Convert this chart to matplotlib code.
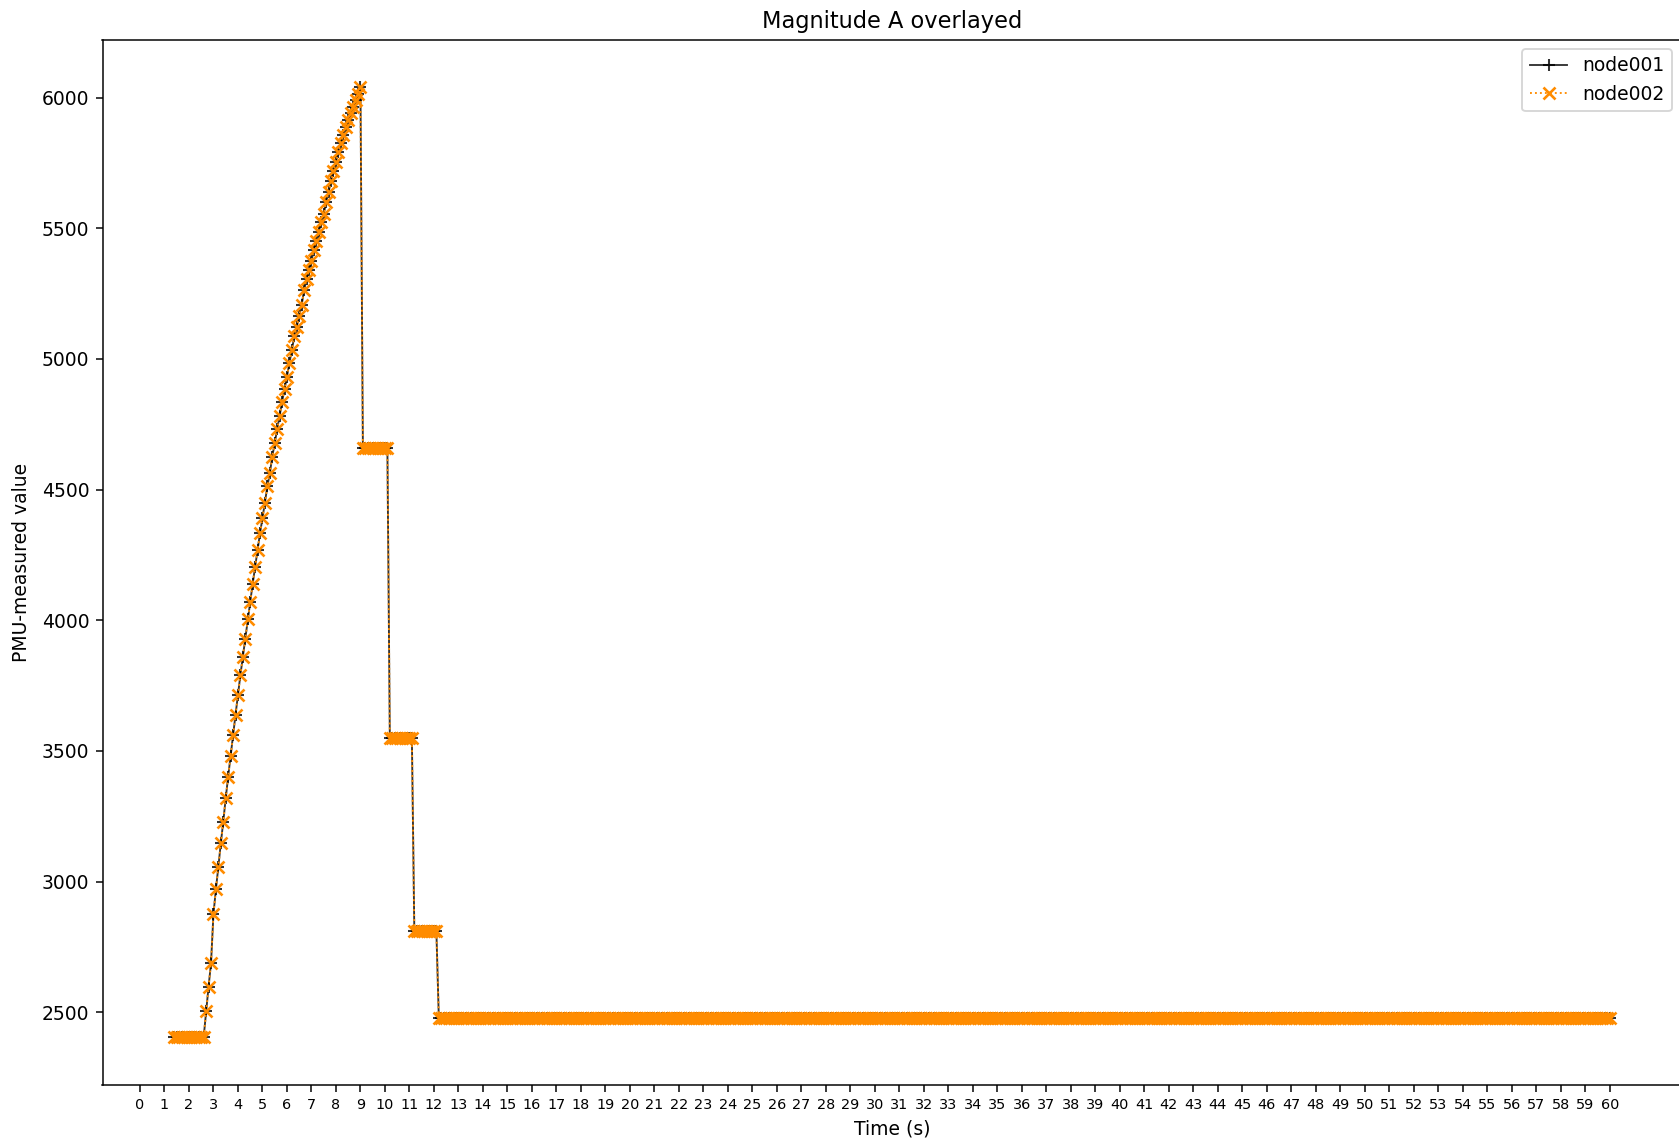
import numpy as np
import matplotlib
matplotlib.use("Agg")
import matplotlib.pyplot as plt

# ---- data ----
sample_period = 0.1  # s

# constant-value segments: (start time, end time) and level
flat_starts = [1.4, 9.1, 10.2, 11.2, 12.2]
flat_ends = [2.6, 10.1, 11.1, 12.1, 60.0]
flat_levels = [2405, 4660, 3550, 2810, 2478]

# ramp segment (starts at 2.7 s, one value per sample)
ramp_start = 2.7
ramp_values = [
    2503, 2598, 2688, 2876, 2971, 3057, 3147, 3229, 3319, 3402,
    3481, 3561, 3638, 3714, 3791, 3861, 3930, 4004, 4071, 4139,
    4203, 4269, 4333, 4390, 4450, 4512, 4562, 4626, 4677, 4731,
    4782, 4836, 4884, 4932, 4985, 5034, 5086, 5123, 5164, 5206,
    5264, 5304, 5340, 5376, 5417, 5452, 5487, 5523, 5554, 5600,
    5640, 5680, 5718, 5755, 5790, 5825, 5857, 5887, 5914, 5940,
    5965, 5990, 6015, 6040,
]

x_ticks = list(range(0, 61))
series_names = ["node001", "node002"]


def seg_times(t0, t1):
    n = int(round((t1 - t0) / sample_period)) + 1
    return t0 + sample_period * np.arange(n)


t_parts, v_parts = [], []
# flat 1
t = seg_times(flat_starts[0], flat_ends[0])
t_parts.append(t); v_parts.append(np.full(len(t), flat_levels[0], float))
# ramp
t = ramp_start + sample_period * np.arange(len(ramp_values))
t_parts.append(t); v_parts.append(np.array(ramp_values, float))
# remaining flats
for s, e, lv in zip(flat_starts[1:], flat_ends[1:], flat_levels[1:]):
    t = seg_times(s, e)
    t_parts.append(t); v_parts.append(np.full(len(t), lv, float))

time = np.concatenate(t_parts)
node001 = np.concatenate(v_parts)
node002 = node001.copy()

# ---- figure ----
DPI = 135
fig = plt.figure(figsize=(1679 / DPI, 1143 / DPI), dpi=DPI)
ax = fig.add_axes([102.5 / 1679, (1143 - 1084.6) / 1143, 1579 / 1679, 1045 / 1143])

ax.plot(time, node001, color="black", linestyle="-", marker="+", linewidth=1.0,
        markersize=6, markeredgewidth=1.1, label=series_names[0], alpha=0.8)
ax.plot(time, node002, color="darkorange", linestyle=":", marker="x", linewidth=1.0,
        markersize=6.3, markeredgewidth=1.4, label=series_names[1])

ax.set_xticks(x_ticks)
ax.set_xticklabels([str(v) for v in x_ticks], fontsize=7.7)
ax.set_title("Magnitude A overlayed")
ax.set_xlabel("Time (s)")
ax.set_ylabel("PMU-measured value", labelpad=5.5)
ax.legend(loc="upper right")

fig.savefig("out.png", dpi=DPI)
